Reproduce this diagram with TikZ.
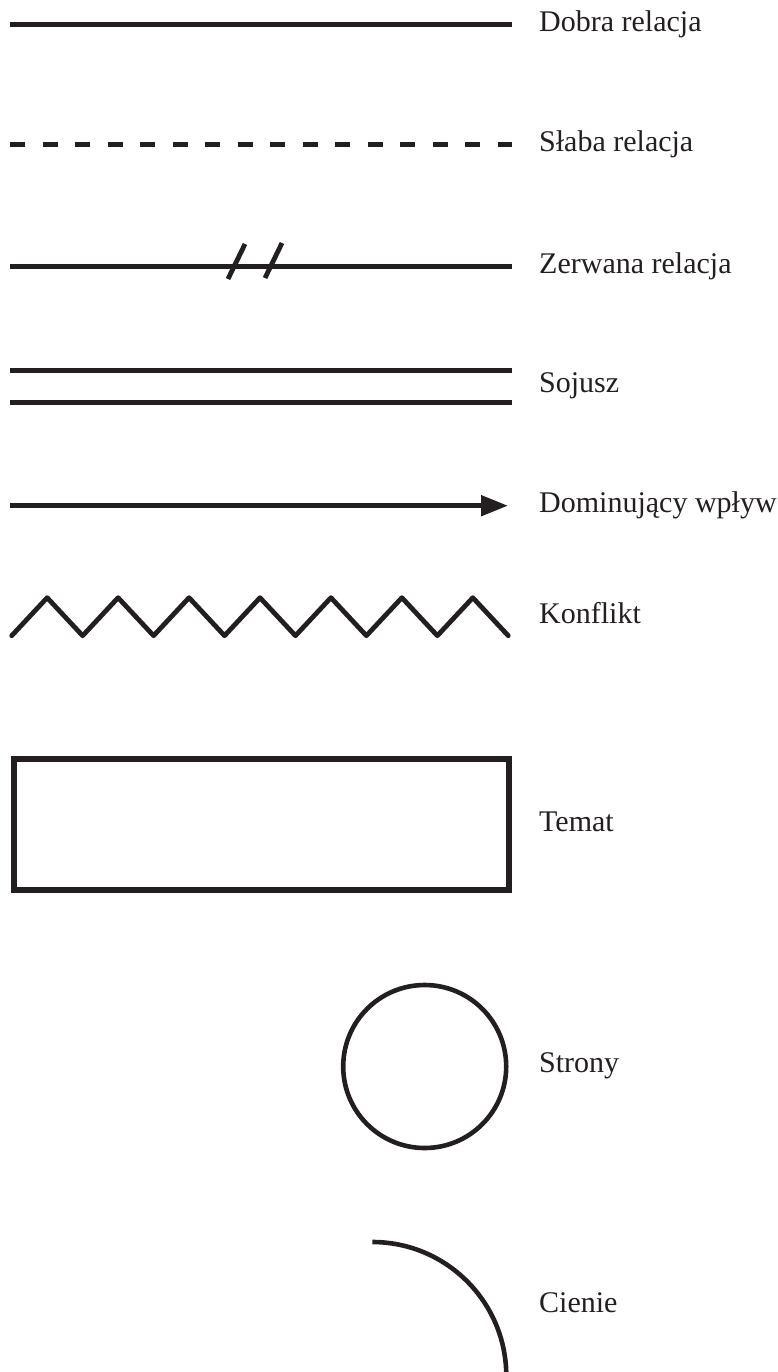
\documentclass[tikz,border=0pt]{standalone}
\usepackage{fontspec}
\setmainfont{Liberation Serif}
\usetikzlibrary{arrows.meta}

\definecolor{ink}{HTML}{231F20}

\begin{document}
\begin{tikzpicture}[x=1pt, y=1pt, every node/.style={font=\fontsize{30}{35}\selectfont, text=ink, anchor=base west, inner sep=0pt}]
\tikzstyle{relation} = [line width=5pt, draw=ink]
\tikzstyle{weak} = [relation, dash pattern=on 15pt off 17.5pt]
\tikzstyle{cut} = [line width=4.8pt, draw=ink]
\tikzstyle{dominant} = [relation, -{Triangle[length=27pt, width=20pt]}]
\tikzstyle{conflict} = [line width=4.8pt, draw=ink, line cap=round, line join=round]
\tikzstyle{topic} = [line width=6pt, draw=ink]
\tikzstyle{party} = [line width=4.6pt, draw=ink]

\useasboundingbox (0,0) rectangle (778,-1372);

% Good relation
\coordinate (good-l) at (10,-24.5);
\coordinate (good-r) at (512,-24.5);
\draw [relation] (good-l) -- (good-r);
\node (good) at (539,-32) {Dobra relacja};

% Weak relation
\coordinate (weak-l) at (10,-145);
\coordinate (weak-r) at (512,-145);
\draw [weak] (weak-l) -- (weak-r);
\node (weaklbl) at (539,-152) {Słaba relacja};

% Broken relation, line with two slashes
\coordinate (broken-l) at (10,-266);
\coordinate (broken-r) at (512,-266);
\draw [relation] (broken-l) -- (broken-r);
\draw [cut] (228,-279) -- (245,-244);
\draw [cut] (265,-278) -- (282,-243);
\node (broken) at (539,-273.5) {Zerwana relacja};

% Alliance, double line
\coordinate (ally-l1) at (10,-370.5);
\coordinate (ally-r1) at (512,-370.5);
\coordinate (ally-l2) at (10,-402);
\coordinate (ally-r2) at (512,-402);
\draw [relation] (ally-l1) -- (ally-r1);
\draw [relation] (ally-l2) -- (ally-r2);
\node (ally) at (539,-392) {Sojusz};

% Dominant influence
\coordinate (dom-l) at (10,-505.7);
\coordinate (dom-r) at (508,-505.7);
\draw [dominant] (dom-l) -- (dom-r);
\node (dom) at (539,-512) {Dominujący wpływ};

% Conflict, zigzag
\coordinate (zz-start) at (11.7,-635.7);
\draw [conflict] (zz-start) \foreach \i in {1,...,7} { -- ++(35.47,38) -- ++(35.47,-38) };
\node (conflict) at (539,-623.5) {Konflikt};

% Topic box
\draw [topic] (13.5,-759) rectangle (509,-890);
\node (topic) at (539,-831.5) {Temat};

% Parties, circle
\draw [party] (424.7,-1066.5) circle [radius=81.5];
\node (parties) at (539,-1072) {Strony};

% Shadows, quarter arc running off the bottom
\draw [party] (372.3,-1242) arc [start angle=90, end angle=0, radius=134];
\node (shadows) at (539,-1312) {Cienie};

\end{tikzpicture}
\end{document}
